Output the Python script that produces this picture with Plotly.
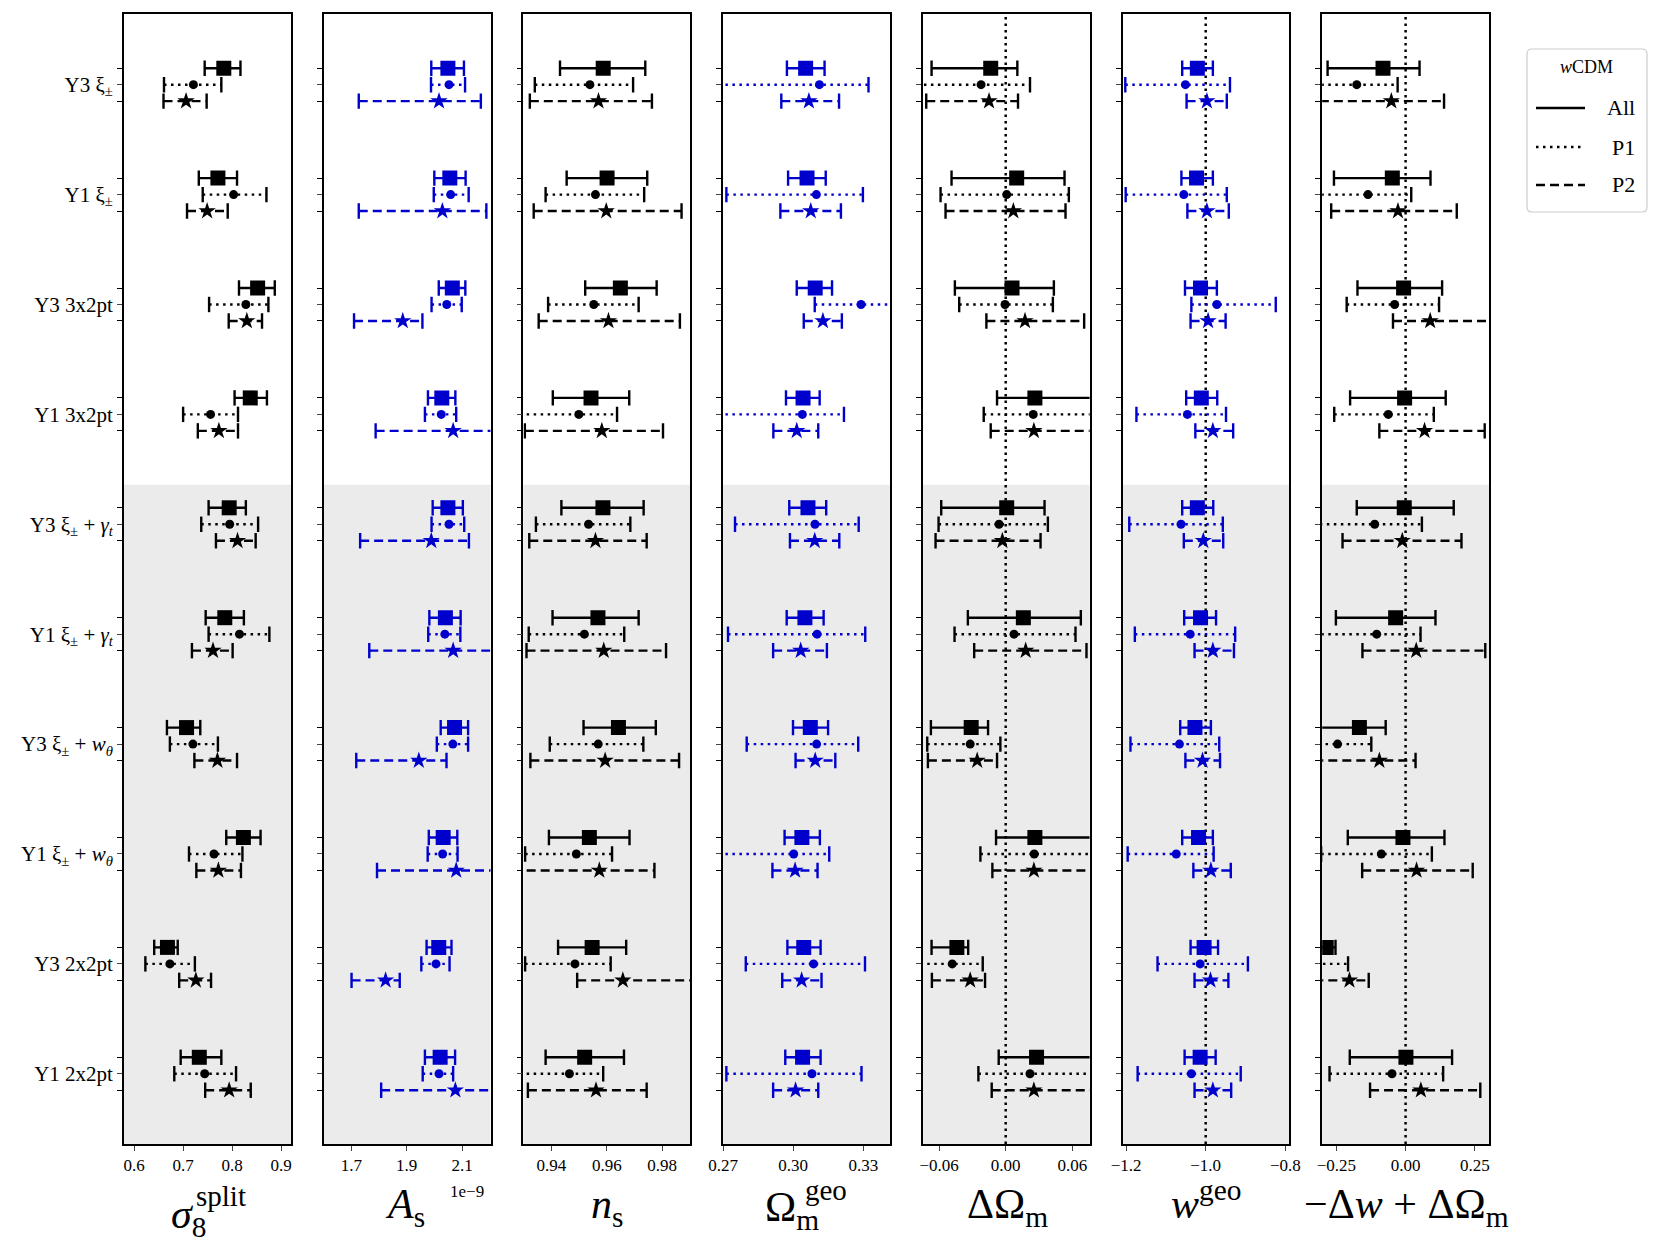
import plotly.graph_objects as go

# row labels (top to bottom)
labels = ["Y3 ξ<sub>±</sub>", "Y1 ξ<sub>±</sub>", "Y3 3x2pt", "Y1 3x2pt",
          "Y3 ξ<sub>±</sub> + <i>γ<sub>t</sub></i>", "Y1 ξ<sub>±</sub> + <i>γ<sub>t</sub></i>",
          "Y3 ξ<sub>±</sub> + <i>w<sub>θ</sub></i>", "Y1 ξ<sub>±</sub> + <i>w<sub>θ</sub></i>",
          "Y3 2x2pt", "Y1 2x2pt"]
rows = list(range(len(labels)))

# (centre, low, high) for each row
sig8_all = [(0.783, 0.744, 0.817), (0.771, 0.732, 0.810), (0.852, 0.814, 0.887), (0.837, 0.805, 0.871),
            (0.794, 0.752, 0.828), (0.785, 0.746, 0.824), (0.707, 0.667, 0.735), (0.823, 0.788, 0.858),
            (0.668, 0.641, 0.689), (0.733, 0.695, 0.778)]
sig8_p1 = [(0.721, 0.661, 0.778), (0.803, 0.740, 0.870), (0.828, 0.753, 0.874), (0.756, 0.700, 0.812),
           (0.795, 0.737, 0.853), (0.815, 0.752, 0.876), (0.720, 0.673, 0.771), (0.763, 0.712, 0.821),
           (0.673, 0.623, 0.724), (0.744, 0.682, 0.808)]
sig8_p2 = [(0.706, 0.660, 0.748), (0.749, 0.708, 0.791), (0.830, 0.793, 0.861), (0.773, 0.730, 0.812),
           (0.811, 0.767, 0.848), (0.761, 0.718, 0.801), (0.770, 0.723, 0.810), (0.772, 0.727, 0.818),
           (0.726, 0.692, 0.757), (0.794, 0.745, 0.838)]

As_all = [(2.049, 1.989, 2.107), (2.056, 2.000, 2.113), (2.065, 2.016, 2.112), (2.027, 1.977, 2.076),
          (2.049, 1.994, 2.103), (2.040, 1.982, 2.095), (2.073, 2.023, 2.122), (2.032, 1.980, 2.083),
          (2.016, 1.972, 2.062), (2.021, 1.966, 2.075)]
As_p1 = [(2.053, 1.988, 2.111), (2.059, 1.998, 2.124), (2.045, 1.990, 2.099), (2.025, 1.966, 2.079),
         (2.053, 1.990, 2.108), (2.038, 1.978, 2.094), (2.067, 2.009, 2.122), (2.030, 1.976, 2.084),
         (2.006, 1.953, 2.055), (2.017, 1.958, 2.068)]
As_p2 = [(2.017, 1.727, 2.168), (2.029, 1.727, 2.188), (1.886, 1.710, 1.957), (2.068, 1.788, 2.24),
         (1.989, 1.732, 2.125), (2.068, 1.765, 2.23), (1.944, 1.718, 2.044), (2.079, 1.793, 2.23),
         (1.824, 1.701, 1.875), (2.076, 1.808, 2.23)]

ns_all = [(0.9587, 0.9431, 0.9739), (0.9601, 0.9455, 0.9746), (0.9649, 0.9522, 0.9780), (0.9543, 0.9405, 0.9681),
          (0.9586, 0.9436, 0.9733), (0.9568, 0.9404, 0.9715), (0.9642, 0.9516, 0.9777), (0.9537, 0.9391, 0.9682),
          (0.9547, 0.9424, 0.9670), (0.9520, 0.9379, 0.9662)]
ns_p1 = [(0.9539, 0.9340, 0.9695), (0.9559, 0.9379, 0.9735), (0.9553, 0.9388, 0.9715), (0.9499, 0.926, 0.9637),
         (0.9534, 0.9344, 0.9685), (0.9519, 0.9318, 0.9663), (0.9569, 0.9394, 0.9732), (0.9490, 0.9305, 0.9619),
         (0.9485, 0.9305, 0.9614), (0.9465, 0.926, 0.9587)]
ns_p2 = [(0.9570, 0.9322, 0.9763), (0.9598, 0.9336, 0.9870), (0.9606, 0.9354, 0.9864), (0.9582, 0.9304, 0.9803),
         (0.9559, 0.9320, 0.9744), (0.9589, 0.9310, 0.9814), (0.9594, 0.9324, 0.9861), (0.9573, 0.926, 0.9772),
         (0.9658, 0.9493, 0.995), (0.9561, 0.9315, 0.9744)]

om_all = [(0.3053, 0.2973, 0.3134), (0.3059, 0.2978, 0.3139), (0.3094, 0.3015, 0.3166), (0.3042, 0.2969, 0.3113),
          (0.3063, 0.2983, 0.3141), (0.3050, 0.2972, 0.3130), (0.3073, 0.2999, 0.3149), (0.3037, 0.2963, 0.3114),
          (0.3045, 0.2975, 0.3117), (0.3040, 0.2966, 0.3117)]
om_p1 = [(0.3112, 0.262, 0.3322), (0.3099, 0.2714, 0.3298), (0.3290, 0.3092, 0.350), (0.3039, 0.265, 0.3217),
         (0.3093, 0.2751, 0.3280), (0.3102, 0.2721, 0.3308), (0.3100, 0.2801, 0.3278), (0.3002, 0.262, 0.3154),
         (0.3087, 0.2797, 0.3307), (0.3080, 0.2714, 0.3292)]
om_p2 = [(0.3067, 0.2949, 0.3196), (0.3075, 0.2945, 0.3204), (0.3127, 0.3045, 0.3208), (0.3015, 0.2915, 0.3107),
         (0.3092, 0.2986, 0.3197), (0.3032, 0.2914, 0.3144), (0.3094, 0.3010, 0.3180), (0.3008, 0.2911, 0.3104),
         (0.3036, 0.2953, 0.3121), (0.3010, 0.2914, 0.3107)]

dom_all = [(-0.0135, -0.0668, 0.0105), (0.0099, -0.0488, 0.0530), (0.0057, -0.0458, 0.0434), (0.0263, -0.0078, 0.085),
           (0.0009, -0.0581, 0.0350), (0.0159, -0.0341, 0.0677), (-0.0311, -0.0674, -0.0159), (0.0263, -0.0087, 0.085),
           (-0.0440, -0.0668, -0.0338), (0.0278, -0.0063, 0.085)]
dom_p1 = [(-0.0222, -0.08, 0.0219), (0.0009, -0.0587, 0.0569), (-0.0006, -0.0419, 0.0425), (0.0248, -0.0198, 0.08),
          (-0.0060, -0.0605, 0.0380), (0.0075, -0.0461, 0.0629), (-0.0320, -0.0707, -0.0048), (0.0257, -0.0228, 0.08),
          (-0.0482, -0.077, -0.0207), (0.0219, -0.0246, 0.08)]
dom_p2 = [(-0.0150, -0.0716, 0.0111), (0.0069, -0.0542, 0.0539), (0.0174, -0.0174, 0.0707), (0.0254, -0.0135, 0.078),
          (-0.0030, -0.0632, 0.0314), (0.0180, -0.0284, 0.0728), (-0.0257, -0.0701, -0.0078), (0.0254, -0.0120, 0.078),
          (-0.0320, -0.0665, -0.0186), (0.0254, -0.0126, 0.078)]

w_all = [(-1.021, -1.059, -0.982), (-1.023, -1.061, -0.982), (-1.013, -1.052, -0.972), (-1.011, -1.049, -0.971),
         (-1.021, -1.059, -0.981), (-1.013, -1.054, -0.974), (-1.027, -1.064, -0.987), (-1.018, -1.059, -0.982),
         (-1.004, -1.038, -0.969), (-1.014, -1.053, -0.975)]
w_p1 = [(-1.051, -1.202, -0.939), (-1.055, -1.201, -0.947), (-0.972, -1.036, -0.824), (-1.046, -1.174, -0.949),
        (-1.062, -1.192, -0.957), (-1.039, -1.178, -0.926), (-1.066, -1.189, -0.966), (-1.074, -1.196, -0.980),
        (-1.014, -1.121, -0.894), (-1.036, -1.171, -0.912)]
w_p2 = [(-0.997, -1.048, -0.947), (-0.997, -1.046, -0.942), (-0.994, -1.038, -0.950), (-0.982, -1.026, -0.931),
        (-1.006, -1.055, -0.956), (-0.982, -1.028, -0.929), (-1.008, -1.051, -0.964), (-0.987, -1.031, -0.937),
        (-0.988, -1.028, -0.943), (-0.982, -1.028, -0.936)]

dwo_all = [(-0.0817, -0.282, 0.0504), (-0.048, -0.259, 0.090), (-0.0072, -0.174, 0.132), (-0.0036, -0.2006, 0.145),
           (-0.0048, -0.1766, 0.174), (-0.036, -0.252, 0.108), (-0.167, -0.33, -0.072), (-0.0096, -0.209, 0.1405),
           (-0.287, -0.33, -0.2534), (0.0012, -0.2018, 0.168)]
dwo_p1 = [(-0.1766, -0.33, -0.0288), (-0.136, -0.33, 0.0204), (-0.0396, -0.213, 0.121), (-0.0625, -0.258, 0.102),
          (-0.1117, -0.31, 0.0589), (-0.1045, -0.33, 0.054), (-0.246, -0.34, -0.124), (-0.0877, -0.305, 0.0949),
          (-0.33, -0.40, -0.208), (-0.0492, -0.275, 0.1357)]
dwo_p2 = [(-0.0516, -0.31, 0.139), (-0.0276, -0.269, 0.185), (0.0889, -0.0456, 0.33), (0.0685, -0.0949, 0.286),
          (-0.012, -0.228, 0.202), (0.0384, -0.156, 0.288), (-0.0949, -0.33, 0.036), (0.0396, -0.157, 0.2426),
          (-0.203, -0.33, -0.1333), (0.0552, -0.1285, 0.270)]

BLUE = "#0000cd"
panels = [
    dict(data=(sig8_all, sig8_p1, sig8_p2), color="black", rng=[0.5794, 0.9197],
         tv=[0.6, 0.7, 0.8, 0.9], tt=["0.6", "0.7", "0.8", "0.9"], ref=None),
    dict(data=(As_all, As_p1, As_p2), color=BLUE, rng=[1.6004, 2.2029],
         tv=[1.7, 1.9, 2.1], tt=["1.7", "1.9", "2.1"], ref=None),
    dict(data=(ns_all, ns_p1, ns_p2), color="black", rng=[0.92988, 0.99012],
         tv=[0.94, 0.96, 0.98], tt=["0.94", "0.96", "0.98"], ref=None),
    dict(data=(om_all, om_p1, om_p2), color=BLUE, rng=[0.27, 0.34135],
         tv=[0.27, 0.30, 0.33], tt=["0.27", "0.30", "0.33"], ref=None),
    dict(data=(dom_all, dom_p1, dom_p2), color="black", rng=[-0.0747, 0.0756],
         tv=[-0.06, 0.0, 0.06], tt=["−0.06", "0.00", "0.06"], ref=0.0),
    dict(data=(w_all, w_p1, w_p2), color=BLUE, rng=[-1.209, -0.790],
         tv=[-1.2, -1.0, -0.8], tt=["−1.2", "−1.0", "−0.8"], ref=-1.0),
    dict(data=(dwo_all, dwo_p1, dwo_p2), color="black", rng=[-0.3015, 0.3015],
         tv=[-0.25, 0.0, 0.25], tt=["−0.25", "0.00", "0.25"], ref=0.0),
]

W, H = 1661, 1253
FONT = "Liberation Serif"
left0, pitch, pw = 124.0, 199.7, 166.8
top_px, bot_px = 13.8, 1144.0
yrange = [9.639, -0.645]
off = 0.15
shade_from = 3.64
DOT = "2.5px,4.5px"
DASH = "9px,5px"

# marker symbol, size, dash, row offset
styles = [("square", 15, "solid", -off), ("circle", 9, DOT, 0.0), ("star", 13, DASH, off)]

fig = go.Figure()
shapes = []
layout = {}
side_ticks = []
for r in rows:
    side_ticks += [r - off, r + off]

for i, p in enumerate(panels):
    n = "" if i == 0 else str(i + 1)
    xa, ya = "x" + n, "y" + n
    col = p["color"]
    for (sym, size, dash, dy), series in zip(styles, p["data"]):
        ys = [r + dy for r in rows]
        lx, ly, cx, cy = [], [], [], []
        for (c, lo, hi), y in zip(series, ys):
            lx += [lo, hi, None]
            ly += [y, y, None]
            cx += [lo, hi]
            cy += [y, y]
        fig.add_trace(go.Scatter(x=lx, y=ly, mode="lines", xaxis=xa, yaxis=ya,
                                 line=dict(color=col, width=2.4, dash=dash),
                                 showlegend=False, hoverinfo="skip"))
        fig.add_trace(go.Scatter(x=cx, y=cy, mode="markers", xaxis=xa, yaxis=ya,
                                 marker=dict(symbol="line-ns", size=11, color=col,
                                             line=dict(color=col, width=2.4)),
                                 showlegend=False, hoverinfo="skip"))
        fig.add_trace(go.Scatter(x=[s[0] for s in series], y=ys, mode="markers", xaxis=xa, yaxis=ya,
                                 marker=dict(symbol=sym, size=size, color=col, line=dict(width=0)),
                                 showlegend=False))

    shapes.append(dict(type="rect", xref=xa + " domain", yref=ya, x0=0, x1=1, y0=shade_from, y1=yrange[0],
                       fillcolor="#ebebeb", line=dict(width=0), layer="below"))
    if p["ref"] is not None:
        shapes.append(dict(type="line", xref=xa, yref=ya + " domain", x0=p["ref"], x1=p["ref"], y0=0, y1=1,
                           line=dict(color="black", width=2.5, dash="2.5px,4px"), layer="below"))

    x0 = (left0 + i * pitch) / W
    layout["xaxis" + n] = dict(domain=[x0, x0 + pw / W], range=p["rng"], anchor=ya, automargin=False,
                               tickvals=p["tv"], ticktext=p["tt"], ticks="outside", ticklen=5, tickwidth=1.3,
                               showline=True, mirror=True, linecolor="black", linewidth=1.8,
                               showgrid=False, zeroline=False, tickfont=dict(family=FONT, size=17, color="black"))
    yax = dict(domain=[1 - bot_px / H, 1 - top_px / H], range=yrange, anchor=xa, automargin=False,
               tickvals=rows, ticks="outside", ticklen=5, tickwidth=1.3,
               minor=dict(tickvals=side_ticks, ticks="outside", ticklen=5, tickwidth=1.3,
                          tickcolor="black", showgrid=False),
               showticklabels=(i == 0), showline=True, mirror=True, linecolor="black",
               linewidth=1.8, showgrid=False, zeroline=False,
               tickfont=dict(family=FONT, size=21, color="black"))
    if i == 0:
        yax["ticktext"] = labels
    layout["yaxis" + n] = yax

# axis titles, placed piece by piece (px positions)
title_bits = [
    ("<i>σ</i><sub>8</sub>", 188, 1217, 42), ("split", 221, 1196, 29),
    ("<i>A</i><sub>s</sub>", 405, 1207, 42), ("1e−9", 467, 1191, 17),
    ("Ω<sub>m</sub>", 792, 1210, 42), ("geo", 826, 1190, 29),
    ("<i>n</i><sub>s</sub>", 607, 1207, 42),
    ("ΔΩ<sub>m</sub>", 1007, 1207, 42),
    ("<i>w</i><sup>geo</sup>", 1206, 1200, 42),
    ("−Δ<i>w</i> + ΔΩ<sub>m</sub>", 1406, 1207, 42),
]
annotations = []
for txt, px_, py_, fs in title_bits:
    annotations.append(dict(text=txt, x=px_ / W, y=1 - py_ / H, xref="paper", yref="paper",
                            xanchor="center", yanchor="middle", showarrow=False,
                            font=dict(family=FONT, size=fs, color="black")))

# legend box
lx0, lx1, ly0, ly1, rad = 1527, 1647, 49, 212, 5


def px(x):
    return x / W


def py(y):
    return 1 - y / H


path = (f"M{px(lx0 + rad)},{py(ly0)} L{px(lx1 - rad)},{py(ly0)} Q{px(lx1)},{py(ly0)} {px(lx1)},{py(ly0 + rad)} "
        f"L{px(lx1)},{py(ly1 - rad)} Q{px(lx1)},{py(ly1)} {px(lx1 - rad)},{py(ly1)} "
        f"L{px(lx0 + rad)},{py(ly1)} Q{px(lx0)},{py(ly1)} {px(lx0)},{py(ly1 - rad)} "
        f"L{px(lx0)},{py(ly0 + rad)} Q{px(lx0)},{py(ly0)} {px(lx0 + rad)},{py(ly0)} Z")
shapes.append(dict(type="path", path=path, xref="paper", yref="paper",
                   line=dict(color="#cccccc", width=1.2), fillcolor="white"))
annotations.append(dict(text="<i>w</i>CDM", x=px(1586), y=py(67), xref="paper", yref="paper",
                        xanchor="center", yanchor="middle", showarrow=False,
                        font=dict(family=FONT, size=18, color="black")))
leg_items = [("All", "solid", 108), ("P1", DOT, 147), ("P2", DASH, 185)]
for name, dash, yy in leg_items:
    shapes.append(dict(type="line", xref="paper", yref="paper", x0=px(1536), x1=px(1585), y0=py(yy), y1=py(yy),
                       line=dict(color="black", width=2.4, dash=dash)))
    annotations.append(dict(text=name, x=px(1637), y=py(yy), xref="paper", yref="paper",
                            xanchor="right", yanchor="middle", showarrow=False,
                            font=dict(family=FONT, size=22, color="black")))

fig.update_layout(width=W, height=H, margin=dict(l=0, r=0, t=0, b=0, autoexpand=False),
                  paper_bgcolor="white", plot_bgcolor="white",
                  font=dict(family=FONT, color="black"),
                  shapes=shapes, annotations=annotations, showlegend=False, **layout)

fig.write_html("out.html", config={"displayModeBar": False},
               post_script="document.body.style.margin='0px';")
